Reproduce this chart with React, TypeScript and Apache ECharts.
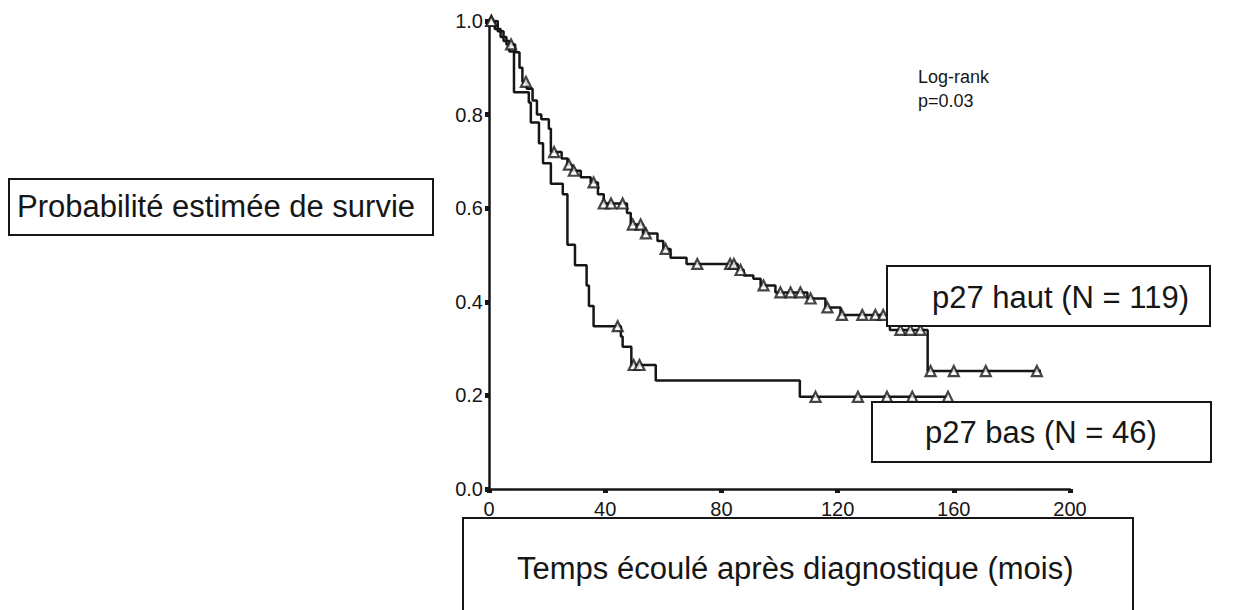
import React, { useEffect, useRef } from "react";
import * as echarts from "echarts";

// p27 haut (N = 119)
const highTimes = [0, 2, 4, 6, 9, 10.5, 11.5, 13, 15, 16.5, 18, 20.6, 21.3, 25, 27, 28.5, 31.6, 35, 37.5, 39.5, 47.5, 48.8, 53, 58, 60, 62.5, 68, 85.6, 87.7, 91, 93.5, 98.6, 109.6, 115.8, 121, 138, 151, 190];
const highSurv = [1.0, 0.983, 0.966, 0.95, 0.933, 0.9, 0.87, 0.855, 0.83, 0.8, 0.79, 0.77, 0.72, 0.706, 0.693, 0.68, 0.666, 0.655, 0.63, 0.61, 0.59, 0.565, 0.546, 0.53, 0.513, 0.494, 0.481, 0.468, 0.456, 0.449, 0.435, 0.42, 0.407, 0.388, 0.372, 0.34, 0.252, 0.252];
const highCensor = [0.8, 7.6, 12.7, 22.4, 27.5, 29.2, 36, 39.5, 42, 46, 49.5, 52.2, 54, 60.8, 71.7, 83, 84.3, 86.6, 94.5, 100.3, 103.8, 107.2, 110.7, 116.5, 121.5, 128.5, 133, 135.7, 141.6, 145, 148.5, 152, 160, 171, 188.6];

// p27 bas (N = 46)
const lowTimes = [0, 3, 5, 7, 8.6, 13.7, 14.4, 17.2, 18.6, 21.3, 25.4, 27, 29.6, 33.6, 34.4, 36, 45.4, 46, 49, 57.4, 107, 158];
const lowSurv = [1.0, 0.978, 0.957, 0.935, 0.848, 0.826, 0.783, 0.739, 0.696, 0.652, 0.63, 0.522, 0.478, 0.435, 0.391, 0.348, 0.326, 0.304, 0.265, 0.232, 0.197, 0.197];
const lowCensor = [0.8, 44.3, 49.8, 51.8, 112.4, 127, 137, 145.7, 158];

const xTicks = { min: 0, max: 200, interval: 40 };
const yTicks = { min: 0, max: 1, interval: 0.2 };

const yTitle = "Probabilité estimée de survie";
const xTitle = "Temps écoulé après diagnostique (mois)";
const highLabel = "p27 haut (N = 119)";
const lowLabel = "p27 bas (N = 46)";
const testLines = ["Log-rank", "p=0.03"];

const FONT = "'Liberation Sans', Arial, Helvetica, sans-serif";
const INK = "#161616";

function survAt(times: number[], surv: number[], t: number): number {
  let v = surv[0];
  for (let i = 0; i < times.length; i++) {
    if (times[i] <= t) v = surv[i];
  }
  return v;
}

function labelBox(x: number, y: number, w: number, h: number, text: string, tx: number, ty: number) {
  return {
    type: "group",
    z: 100,
    children: [
      {
        type: "rect",
        shape: { x, y, width: w, height: h },
        style: { fill: "#fff", stroke: INK, lineWidth: 2 },
        z: 100,
      },
      {
        type: "text",
        x: tx,
        y: ty,
        style: {
          text,
          fill: INK,
          font: `31px ${FONT}`,
          textAlign: "left",
          textVerticalAlign: "middle",
        },
        z: 101,
      },
    ],
  };
}

export default function App() {
  const ref = useRef<HTMLDivElement>(null);
  useEffect(() => {
    if (!ref.current) return;
    const chart = echarts.init(ref.current, null, { renderer: "svg" });
    const highLine = highTimes.map((t, i) => [t, highSurv[i]]);
    const lowLine = lowTimes.map((t, i) => [t, lowSurv[i]]);
    const highMarks = highCensor.map((t) => [t, survAt(highTimes, highSurv, t)]);
    const lowMarks = lowCensor.map((t) => [t, survAt(lowTimes, lowSurv, t)]);

    const censorStyle = {
      color: "#fff",
      borderColor: INK,
      borderWidth: 2.2,
    };

    chart.setOption({
      animation: false,
      backgroundColor: "#fff",
      grid: { left: 489, top: 21, width: 581, height: 468 },
      xAxis: {
        type: "value",
        min: xTicks.min,
        max: xTicks.max,
        interval: xTicks.interval,
        axisLine: { show: true, lineStyle: { color: INK, width: 2.5 } },
        axisTick: { show: true, length: 4, lineStyle: { color: INK, width: 5 } },
        axisLabel: { color: INK, fontSize: 20, fontFamily: FONT, margin: 10 },
        splitLine: { show: false },
      },
      yAxis: {
        type: "value",
        min: yTicks.min,
        max: yTicks.max,
        interval: yTicks.interval,
        axisLine: { show: true, lineStyle: { color: INK, width: 2.5 } },
        axisTick: { show: true, length: 4, lineStyle: { color: INK, width: 5 } },
        axisLabel: {
          color: INK,
          fontSize: 20,
          fontFamily: FONT,
          margin: 6,
          formatter: (v: number) => v.toFixed(1),
        },
        splitLine: { show: false },
      },
      series: [
        {
          type: "line",
          step: "end",
          data: highLine,
          symbol: "none",
          lineStyle: { color: INK, width: 2.5 },
          z: 2,
        },
        {
          type: "line",
          step: "end",
          data: lowLine,
          symbol: "none",
          lineStyle: { color: INK, width: 2.5 },
          z: 2,
        },
        {
          type: "scatter",
          data: highMarks,
          symbol: "triangle",
          symbolSize: 10,
          itemStyle: censorStyle,
          z: 3,
        },
        {
          type: "scatter",
          data: lowMarks,
          symbol: "triangle",
          symbolSize: 10,
          itemStyle: censorStyle,
          z: 3,
        },
      ],
      graphic: [
        labelBox(9, 179, 424, 56, yTitle, 17, 206),
        labelBox(887, 266, 323, 60, highLabel, 932, 297),
        labelBox(872, 402, 339, 60, lowLabel, 925, 432),
        labelBox(463, 518, 670, 120, xTitle, 517, 568),
        {
          type: "text",
          x: 918,
          y: 77,
          z: 100,
          style: { text: testLines[0], fill: INK, font: `18px ${FONT}`, textVerticalAlign: "middle" },
        },
        {
          type: "text",
          x: 918,
          y: 101,
          z: 100,
          style: { text: testLines[1], fill: INK, font: `18px ${FONT}`, textVerticalAlign: "middle" },
        },
      ],
    });
    return () => chart.dispose();
  }, []);
  return (
    <div
      ref={ref}
      style={{ position: "fixed", left: 0, top: 0, width: 1256, height: 610, background: "#fff" }}
    />
  );
}
